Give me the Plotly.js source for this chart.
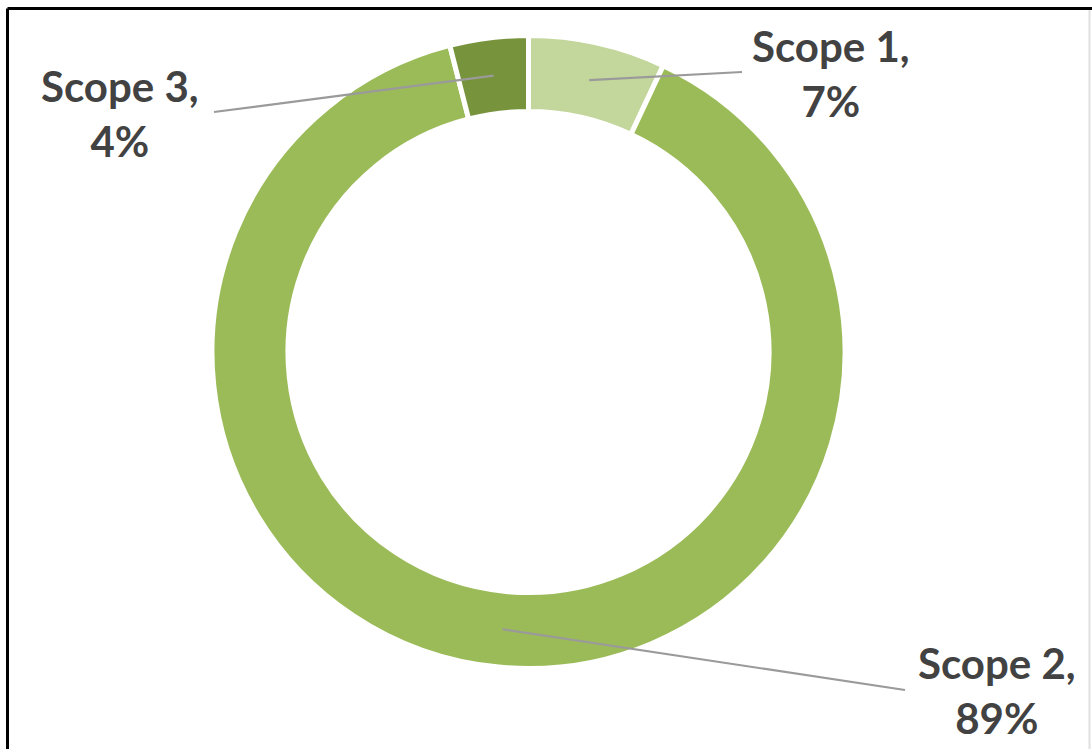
<!DOCTYPE html>
<html>
<head>
<meta charset="utf-8">
<script src="https://cdn.plot.ly/plotly-3.0.1.min.js"></script>
<style>html,body{margin:0;padding:0;background:#fff;}#chart{width:1092px;height:749px;}</style>
</head>
<body>
<div id="chart"></div>
<script>
const categories = ["Scope 1", "Scope 2", "Scope 3"];
const shares = [7, 89, 4];
const sliceColors = ["#c3d69b", "#9bbb59", "#77933c"];

const W = 1092, H = 749;
const cx = 528.5, cy = 352, R = 316.5, hole = 0.76;
// label block centres and leader-line ends (pixels)
const labelPos = [[831, 74], [997, 690], [120, 113]];
const lineEnd = [[742, 72], [905, 690], [214, 112]];

const total = shares.reduce((a, b) => a + b, 0);
const rMid = R * (1 + hole) / 2;
const shapes = [];
const annotations = [];
let cum = 0;
shares.forEach((v, i) => {
  const mid = (cum + v / 2) / total * 2 * Math.PI; // clockwise from top
  cum += v;
  const px = cx + rMid * Math.sin(mid);
  const py = cy - rMid * Math.cos(mid);
  shapes.push({type: "line", xref: "paper", yref: "paper",
    x0: px / W, y0: 1 - py / H, x1: lineEnd[i][0] / W, y1: 1 - lineEnd[i][1] / H,
    line: {color: "#9a9a9a", width: 2.2}});
  annotations.push({xref: "paper", yref: "paper", x: labelPos[i][0] / W, y: 1 - labelPos[i][1] / H,
    xanchor: "center", yanchor: "middle", showarrow: false, align: "center",
    text: categories[i] + ",<br>" + Math.round(v / total * 100) + "%",
    font: {family: "Lato, 'Open Sans', sans-serif", size: 42, color: "#424242", weight: "bold"}});
});
// frame
shapes.push({type: "line", xref: "paper", yref: "paper", x0: 7.5 / W, x1: 1, y0: 1 - 8.5 / H, y1: 1 - 8.5 / H, line: {color: "#000", width: 3}});
shapes.push({type: "line", xref: "paper", yref: "paper", x0: 7.5 / W, x1: 7.5 / W, y0: 1 - 8.5 / H, y1: 0, line: {color: "#000", width: 3}});
shapes.push({type: "line", xref: "paper", yref: "paper", x0: 1089.5 / W, x1: 1089.5 / W, y0: 1 - 10 / H, y1: 0, line: {color: "#e0e0e0", width: 2}});

const trace = {
  type: "pie", labels: categories, values: shares, hole: hole, sort: false,
  direction: "clockwise", rotation: 0, textinfo: "none", hoverinfo: "label+percent",
  marker: {colors: sliceColors, line: {color: "#ffffff", width: 5}},
  domain: {x: [0, 2 * cx / W], y: [1 - (cy + R) / H, 1 - (cy - R) / H]},
  showlegend: false
};
Plotly.newPlot("chart", [trace], {
  width: W, height: H, margin: {l: 0, r: 0, t: 0, b: 0},
  paper_bgcolor: "#ffffff", showlegend: false,
  shapes: shapes, annotations: annotations
}, {displayModeBar: false, staticPlot: true});
</script>
</body>
</html>
